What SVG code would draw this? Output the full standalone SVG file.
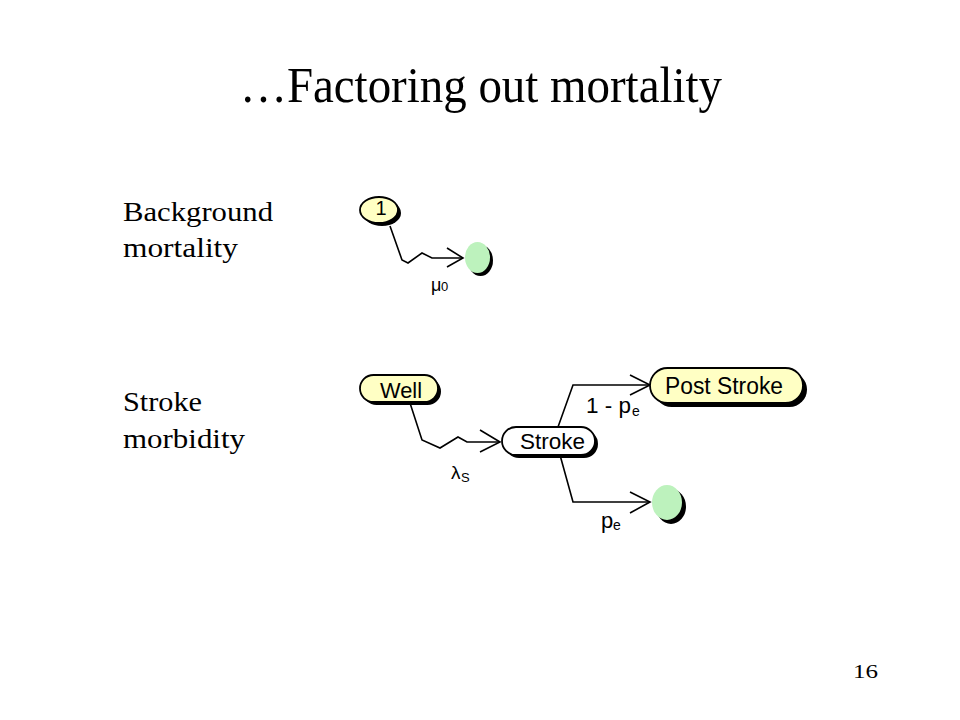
<svg xmlns="http://www.w3.org/2000/svg" width="960" height="720" viewBox="0 0 960 720">
<style>
.t{font-family:"Liberation Serif","Times New Roman",serif;fill:#000}
.n{font-family:"Liberation Sans",Arial,sans-serif;fill:#000}
.c{fill:none;stroke:#000;stroke-width:1.6;stroke-linejoin:miter}
.sh{fill:#000}
.y{fill:#FFFFC4;stroke:#000;stroke-width:1.8}
.w{fill:#fff;stroke:#000;stroke-width:1.8}
.g{fill:#BDF2BD}
</style>
<rect width="960" height="720" fill="#fff"/>
<text class="t" x="240" y="102" font-size="50" textLength="482" lengthAdjust="spacingAndGlyphs">…Factoring out mortality</text>
<text class="t" x="123" y="221" font-size="27" textLength="150" lengthAdjust="spacingAndGlyphs">Background</text>
<text class="t" x="123" y="257" font-size="27" textLength="115" lengthAdjust="spacingAndGlyphs">mortality</text>
<text class="t" x="123" y="411" font-size="27" textLength="79" lengthAdjust="spacingAndGlyphs">Stroke</text>
<text class="t" x="123" y="448" font-size="27" textLength="122" lengthAdjust="spacingAndGlyphs">morbidity</text>
<text class="t" x="853" y="678" font-size="18" textLength="25" lengthAdjust="spacingAndGlyphs">16</text>

<g id="connectors">
<path class="c" d="M390,226 L402,260 L408,263 L422,253 L432,258 L463,258"/>
<path class="c" d="M447,248 L463,258 L447,267"/>
<path class="c" d="M410,403 L422,440 L440,448 L458,437 L467,442 L500,442"/>
<path class="c" d="M480,430 L500,442 L480,452"/>
<path class="c" d="M558,427 L573,385 L650,385"/>
<path class="c" d="M630,375 L650,385 L630,395"/>
<path class="c" d="M560,455 L573,502 L650,502"/>
<path class="c" d="M630,492 L650,502 L630,513"/>
<text class="n" x="431" y="291" font-size="18">μ<tspan x="441" y="291" font-size="13">0</tspan></text>
<text class="n" x="451" y="479" font-size="19">λ<tspan x="461" y="482" font-size="13">S</tspan></text>
<text class="n" x="586" y="413" font-size="22" textLength="45" lengthAdjust="spacingAndGlyphs">1 - p</text>
<text class="n" x="632" y="416" font-size="14">e</text>
<text class="n" x="601" y="528" font-size="22">p<tspan x="613" y="530" font-size="14">e</tspan></text>
</g>

<g id="node-1">
<ellipse class="sh" cx="382" cy="213" rx="19" ry="13"/>
<ellipse class="y" cx="379" cy="210" rx="19" ry="13"/>
<text class="n" x="381" y="215" font-size="20" text-anchor="middle">1</text>
</g>
<g id="node-death1">
<ellipse class="sh" cx="480.5" cy="260.5" rx="12.5" ry="15.5"/>
<ellipse class="g" cx="477.5" cy="257.5" rx="12.5" ry="15.5"/>
</g>
<g id="node-well">
<rect class="sh" x="363" y="378" width="78" height="27" rx="13.5"/>
<rect class="y" x="360" y="375" width="78" height="27" rx="13.5"/>
<text class="n" x="380" y="398" font-size="22" textLength="42" lengthAdjust="spacingAndGlyphs">Well</text>
</g>
<g id="node-stroke">
<rect class="sh" x="505" y="430" width="93" height="28" rx="14"/>
<rect class="w" x="502" y="427" width="93" height="28" rx="14"/>
<text class="n" x="520" y="449" font-size="22" textLength="65" lengthAdjust="spacingAndGlyphs">Stroke</text>
</g>
<g id="node-poststroke">
<rect class="sh" x="654" y="372" width="153" height="35" rx="17.5"/>
<rect class="y" x="650" y="368" width="153" height="35" rx="17.5"/>
<text class="n" x="665" y="394" font-size="23" textLength="118" lengthAdjust="spacingAndGlyphs">Post Stroke</text>
</g>
<g id="node-death2">
<ellipse class="sh" cx="671" cy="506.5" rx="15" ry="17.5"/>
<ellipse class="g" cx="667" cy="502.5" rx="15" ry="17.5"/>
</g>
</svg>
